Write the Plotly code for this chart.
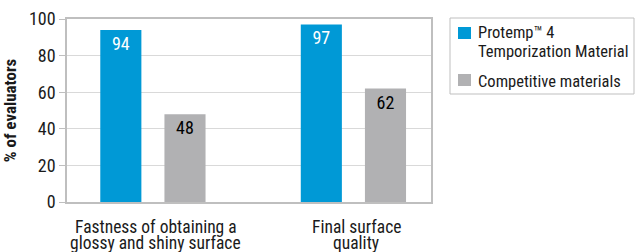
import plotly.graph_objects as go

categories = [
    ["Fastness of obtaining a", "glossy and shiny surface"],
    ["Final surface", "quality"],
]
protemp_values = [94, 97]
competitive_values = [48, 62]
series_names = ["Protemp™ 4", "Temporization Material", "Competitive materials"]
y_ticks = [0, 20, 40, 60, 80, 100]

FONT = "Liberation Sans Narrow, Arial Narrow, Roboto Condensed, sans-serif"
BLUE = "#0099D6"
GRAY = "#B1B1B3"
TXT = "#1a1a1a"

W, H = 635, 252
L, T = 67, 19
R, B = W - 431, H - 202
PW, PH = W - L - R, H - T - B


def px(xw):
    return (xw - L) / PW


def py(yw):
    return (H - B - yw) / PH


xpos = list(range(len(categories)))
bw = 0.205

fig = go.Figure()
fig.add_trace(go.Bar(
    x=xpos, y=protemp_values, name=series_names[0] + " " + series_names[1],
    marker=dict(color=BLUE, line=dict(width=0)),
    width=bw, offset=-0.262, showlegend=False,
    text=[str(v) for v in protemp_values], textposition="inside",
    insidetextanchor="end", textangle=0, constraintext="none",
    textfont=dict(color="white", size=18, family=FONT),
))
fig.add_trace(go.Bar(
    x=xpos, y=competitive_values, name=series_names[2],
    marker=dict(color=GRAY, line=dict(width=0)),
    width=bw, offset=0.058, showlegend=False,
    text=[str(v) for v in competitive_values], textposition="inside",
    insidetextanchor="end", textangle=0, constraintext="none",
    textfont=dict(color="black", size=18, family=FONT),
))

shapes = [
    dict(type="rect", xref="paper", yref="paper", x0=px(450), x1=px(634), y0=py(18), y1=py(94),
         line=dict(color="#BFBFBF", width=1), fillcolor="rgba(0,0,0,0)"),
    dict(type="rect", xref="paper", yref="paper", x0=px(458), x1=px(471), y0=py(27), y1=py(39),
         line=dict(width=0), fillcolor=BLUE),
    dict(type="rect", xref="paper", yref="paper", x0=px(458), x1=px(471), y0=py(74), y1=py(86),
         line=dict(width=0), fillcolor=GRAY),
]
annotations = []
for text, yc in [(series_names[0], 33), (series_names[1], 52), (series_names[2], 81)]:
    annotations.append(dict(
        text=text, xref="paper", yref="paper", x=px(476), y=py(yc),
        xanchor="left", yanchor="middle", showarrow=False,
        font=dict(size=16.5, family=FONT, color=TXT),
    ))

# category labels (two tightly spaced lines each, as in the reference)
for xi, lines in zip(xpos, categories):
    for li, line in enumerate(lines):
        annotations.append(dict(
            text=line, xref="x", yref="paper", x=xi, y=py(227 + 16.5 * li),
            xshift=3, xanchor="center", yanchor="middle", showarrow=False,
            font=dict(size=17.5, family=FONT, color=TXT),
        ))

fig.update_layout(
    width=W, height=H,
    margin=dict(l=L, r=R, t=T, b=B, pad=0),
    paper_bgcolor="white", plot_bgcolor="white",
    font=dict(family=FONT, color=TXT, size=16),
    barmode="group",
    showlegend=False,
    shapes=shapes,
    annotations=annotations,
    xaxis=dict(
        tickmode="array", tickvals=xpos, showticklabels=False,
        range=[-0.428, 1.3875], automargin=False,
        showline=True, linecolor="#BFBFBF", linewidth=1.5, mirror=True,
        showgrid=False, ticks="", zeroline=False,
    ),
    yaxis=dict(
        range=[0, 100], tickvals=y_ticks, automargin=False,
        showline=True, linecolor="#BFBFBF", linewidth=1.5, mirror=True,
        showgrid=True, gridcolor="#D9D9D9", gridwidth=1,
        ticks="outside", ticklen=6, tickcolor="#BFBFBF",
        zeroline=False,
        tickfont=dict(size=18, family=FONT, color=TXT),
        title=dict(text="<b>% of evaluators</b>", font=dict(size=17, family=FONT, color=TXT), standoff=8),
    ),
)

fig.write_html(
    "out.html",
    config={"displayModeBar": False},
    post_script="document.body.style.margin='0';document.body.style.overflow='hidden';",
)
